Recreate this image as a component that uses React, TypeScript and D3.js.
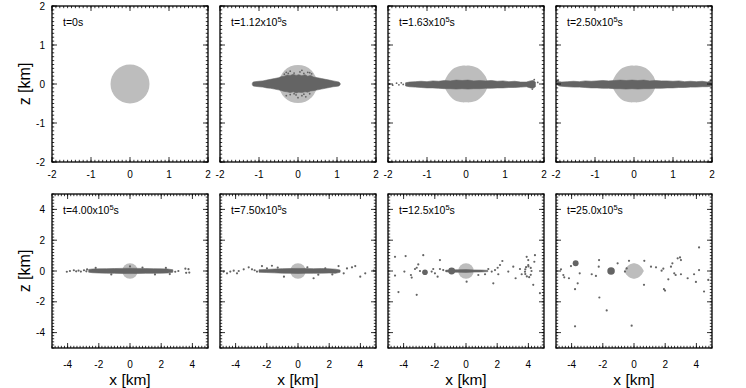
import React, { useEffect, useRef } from "react";
import * as d3 from "d3";

// panel time labels (x10^5 s), first one is plain "0s"
const timeLabels = ["0", "1.12", "1.63", "2.50", "4.00", "7.50", "12.5", "25.0"];

const topTicks = [-2, -1, 0, 1, 2];
const bottomTicks = [-4, -2, 0, 2, 4];

// grey body: circle radius (km) where round, null where lens shaped
const bodyRadius = [0.5, 0.49, null, null, 0.5, 0.5, 0.5, null];

// lens profile of the grey body, panels 3 and 4
const lensX = [-0.56, -0.5, -0.4, -0.3, -0.2, -0.1, 0, 0.1, 0.2, 0.3, 0.4, 0.5, 0.56];
const lensH = [0.05, 0.18, 0.32, 0.41, 0.45, 0.47, 0.47, 0.47, 0.45, 0.41, 0.33, 0.2, 0.05];
// lens profile, panel 8
const lens8X = [-0.63, -0.5, -0.4, -0.3, -0.2, -0.1, 0, 0.1, 0.2, 0.3, 0.4, 0.5, 0.63];
const lens8H = [0.0, 0.22, 0.32, 0.4, 0.45, 0.48, 0.5, 0.48, 0.45, 0.4, 0.32, 0.22, 0.0];

// dense particle bands (outline x, top z, bottom z)
const band2X = [-1.17, -1.15, -1.1, -1.0, -0.9, -0.8, -0.7, -0.6, -0.5, -0.42, -0.35, -0.28, -0.2, -0.12, -0.05, 0.02, 0.1, 0.18, 0.25, 0.32, 0.4, 0.5, 0.6, 0.7, 0.8, 0.9, 1.0, 1.05, 1.08];
const band2Top = [0.02, 0.05, 0.06, 0.07, 0.08, 0.1, 0.12, 0.14, 0.16, 0.19, 0.2, 0.23, 0.22, 0.25, 0.22, 0.24, 0.21, 0.24, 0.2, 0.22, 0.18, 0.16, 0.14, 0.12, 0.1, 0.08, 0.06, 0.05, 0.02];
const band2Bot = [-0.02, -0.05, -0.06, -0.07, -0.08, -0.1, -0.11, -0.13, -0.15, -0.17, -0.19, -0.2, -0.22, -0.2, -0.23, -0.21, -0.22, -0.2, -0.21, -0.18, -0.17, -0.15, -0.13, -0.11, -0.09, -0.07, -0.06, -0.05, -0.02];

const band3X = [-1.55, -1.45, -1.3, -1.15, -1.0, -0.85, -0.7, -0.55, -0.4, -0.25, -0.1, 0.05, 0.2, 0.35, 0.5, 0.65, 0.8, 0.95, 1.1, 1.25, 1.4, 1.55, 1.65, 1.72, 1.78];
const band3Top = [0.03, 0.05, 0.06, 0.07, 0.06, 0.08, 0.07, 0.09, 0.08, 0.1, 0.09, 0.1, 0.08, 0.09, 0.08, 0.09, 0.07, 0.08, 0.06, 0.07, 0.05, 0.05, 0.08, 0.09, 0.05];
const band3Bot = [-0.05, -0.07, -0.08, -0.09, -0.1, -0.1, -0.11, -0.12, -0.12, -0.13, -0.12, -0.13, -0.12, -0.12, -0.11, -0.11, -0.1, -0.1, -0.09, -0.09, -0.08, -0.07, -0.1, -0.11, -0.07];

const band4X = [-1.97, -1.92, -1.85, -1.7, -1.55, -1.4, -1.25, -1.1, -0.95, -0.8, -0.65, -0.5, -0.35, -0.2, -0.05, 0.1, 0.25, 0.4, 0.55, 0.7, 0.85, 1.0, 1.15, 1.3, 1.45, 1.6, 1.75, 1.88, 1.97];
const band4Top = [0.1, 0.06, 0.05, 0.06, 0.07, 0.06, 0.08, 0.07, 0.08, 0.09, 0.08, 0.09, 0.1, 0.09, 0.1, 0.09, 0.1, 0.08, 0.09, 0.08, 0.08, 0.07, 0.08, 0.06, 0.07, 0.06, 0.07, 0.05, 0.08];
const band4Bot = [-0.02, -0.05, -0.06, -0.07, -0.08, -0.08, -0.09, -0.1, -0.1, -0.11, -0.11, -0.12, -0.12, -0.13, -0.12, -0.13, -0.12, -0.12, -0.11, -0.11, -0.1, -0.1, -0.09, -0.09, -0.08, -0.08, -0.07, -0.07, -0.06];

const band5X = [-2.65, -2.4, -2.0, -1.5, -1.0, -0.5, 0, 0.5, 1.0, 1.5, 2.0, 2.4, 2.75];
const band5Top = [0.1, 0.13, 0.14, 0.15, 0.16, 0.17, 0.18, 0.17, 0.16, 0.15, 0.14, 0.13, 0.08];
const band5Bot = [-0.08, -0.11, -0.13, -0.14, -0.15, -0.16, -0.17, -0.16, -0.15, -0.15, -0.14, -0.13, -0.08];

const band6X = [-2.5, -2.0, -1.5, -1.0, -0.5, 0, 0.5, 1.0, 1.5, 2.0, 2.4, 2.7];
const band6Top = [0.08, 0.1, 0.13, 0.15, 0.16, 0.17, 0.16, 0.15, 0.16, 0.14, 0.12, 0.06];
const band6Bot = [-0.08, -0.1, -0.12, -0.14, -0.15, -0.16, -0.15, -0.15, -0.14, -0.13, -0.15, -0.08];

const band7X = [-1.3, -0.9, -0.5, 0, 0.5, 1.0, 1.4];
const band7Top = [0.05, 0.08, 0.08, 0.09, 0.07, 0.06, 0.04];
const band7Bot = [-0.05, -0.08, -0.08, -0.09, -0.07, -0.06, -0.04];

// single particles [x, z] in km
const dots2 = [[-0.3, 0.3], [-0.2, 0.33], [-0.1, 0.28], [0.05, 0.31], [0.15, 0.27], [0.25, 0.3], [0.35, 0.26], [-0.35, 0.25], [0.1, 0.35], [-0.25, 0.27], [0.3, 0.29], [-0.05, -0.28], [0.1, -0.3], [-0.2, -0.27], [0.2, -0.33], [0.3, -0.25], [-0.3, -0.3], [0.0, -0.35], [-0.1, -0.25], [0.15, -0.26]];
const dots3 = [[-1.96, 0.0], [-1.88, -0.03], [-1.78, 0.02], [-1.72, -0.02], [-1.66, 0.03], [-1.61, -0.01], [1.84, 0.04], [1.75, 0.11], [1.7, -0.13]];
const dots4 = [[-1.98, 0.06], [-1.94, 0.1], [1.98, -0.02], [1.96, 0.09]];
const dots5 = [[-4.05, -0.05], [-3.85, 0.0], [-3.6, 0.05], [-3.45, -0.02], [-3.3, 0.03], [-3.15, -0.04], [-2.95, 0.05], [-2.8, -0.02], [3.1, 0.0], [3.55, 0.15], [3.75, 0.12], [3.6, -0.12], [3.8, -0.1], [0.0, 0.3], [2.9, -0.05], [-2.75, 0.1], [-2.2, 0.2], [-1.2, -0.22], [0.8, 0.22], [1.6, -0.22], [2.3, 0.2], [2.55, -0.2]];
const dots6 = [[-4.98, 0.17], [-4.77, -0.04], [-4.55, -0.15], [-4.34, -0.04], [-4.12, 0.02], [-3.91, -0.15], [-3.8, 0.0], [-3.48, 0.11], [-3.16, 0.24], [-2.95, 0.11], [-2.78, 0.05], [-2.63, -0.04], [-2.31, 0.32], [-1.99, 0.17], [-1.67, 0.34], [-0.9, -0.37], [1.0, -0.47], [1.75, 0.17], [2.6, 0.32], [2.93, -0.15], [3.14, 0.17], [3.46, 0.24], [3.67, 0.32], [3.99, -0.37], [4.31, -0.15], [4.85, 0.02], [-1.3, 0.22], [0.6, 0.24], [1.3, -0.24], [2.2, -0.22]];
const dots7 = [[-4.55, 0.92], [-3.87, 0.97], [-4.55, -0.3], [-4.33, -1.37], [-3.16, -1.55], [-3.95, -0.04], [-3.53, -0.26], [-3.48, -0.43], [-3.27, 0.13], [-3.16, 0.21], [-3.06, 0.43], [-2.95, 0.0], [-2.74, 1.03], [-2.2, -0.04], [-1.99, -0.15], [-1.82, -0.37], [-2.1, 0.13], [-1.67, 0.13], [-1.46, 0.06], [-1.24, 0.0], [-1.67, 0.71], [0.04, -0.69], [0.79, -0.26], [1.22, -0.21], [1.43, 0.13], [1.65, -0.04], [1.86, 0.06], [2.03, 0.21], [2.18, 0.39], [2.33, 0.65], [1.75, -0.8], [2.07, -0.21], [2.71, -0.04], [3.03, 0.28], [3.18, -0.47], [3.46, 0.13], [3.57, -0.21], [3.89, 0.92], [3.99, 0.71], [3.99, 0.39], [4.38, 0.6], [4.31, -0.9], [4.74, -1.44], [4.42, 1.03], [3.8, 0.1], [3.85, 0.25], [4.0, 0.3], [4.15, 0.2], [4.2, 0.0], [4.15, -0.25], [4.05, -0.4], [3.9, -0.35], [3.8, -0.2], [3.78, -0.05]];
const dots8 = [[-4.68, 0.11], [-4.53, -0.26], [-4.47, -0.41], [-4.17, -0.47], [-4.04, 0.32], [-3.78, -1.18], [-3.61, -0.8], [-3.48, -0.15], [-2.71, -0.21], [-2.44, -0.32], [-2.24, 0.71], [-2.26, 0.28], [-2.22, -1.72], [-1.75, -2.56], [-1.05, 0.5], [-0.58, -0.04], [-0.47, 0.17], [-0.32, 0.66], [0.66, 0.66], [0.64, -0.9], [1.09, 0.28], [1.41, 0.24], [1.77, 0.02], [1.88, 0.15], [1.92, -1.18], [1.99, -1.27], [2.2, -0.54], [2.37, 0.28], [2.46, 0.5], [2.58, -0.15], [2.67, -0.26], [2.8, 0.82], [2.95, 0.88], [3.01, 0.71], [3.01, -0.21], [3.44, -0.47], [3.85, -0.21], [3.97, -0.71], [4.17, 1.53], [4.17, 0.06], [4.49, -1.33], [4.76, -0.58], [-3.78, -3.59], [-0.15, -3.55]];

// clumps [x, z, radius km]
const clumps7 = [[-2.63, -0.08, 0.18], [-0.92, 0.0, 0.22]];
const clumps8 = [[-3.74, 0.5, 0.19], [-1.47, 0.0, 0.24]];

const DARK = "#646464";
const LIGHT = "#bdbdbd";
const FONT = "'Liberation Sans', Arial, Helvetica, sans-serif";

const App = () => {
  const ref = useRef<SVGSVGElement>(null);

  useEffect(() => {
    const width = 746;
    const height = 388;
    const left0 = 52;
    const pw = 156;
    const gap = 12;
    const rows = [
      { top: 6, h: 156, dom: 2, ticks: topTicks, minor: 0.1, labelDy: 16 },
      { top: 194, h: 154, dom: 5, ticks: bottomTicks, minor: 0.2, labelDy: 20 },
    ];

    const bands = [
      null,
      [band2X, band2Top, band2Bot],
      [band3X, band3Top, band3Bot],
      [band4X, band4Top, band4Bot],
      [band5X, band5Top, band5Bot],
      [band6X, band6Top, band6Bot],
      [band7X, band7Top, band7Bot],
      null,
    ];
    const dots = [[], dots2, dots3, dots4, dots5, dots6, dots7, dots8];
    const clumps = [[], [], [], [], [], [], clumps7, clumps8];
    const lenses = [null, null, [lensX, lensH], [lensX, lensH], null, null, null, [lens8X, lens8H]];

    const svg = d3.select(ref.current);
    svg.selectAll("*").remove();
    svg.attr("width", width).attr("height", height).style("font-family", FONT);
    svg.append("rect").attr("width", width).attr("height", height).attr("fill", "white");

    timeLabels.forEach((t, i) => {
      const row = rows[i < 4 ? 0 : 1];
      const col = i % 4;
      const x0 = left0 + col * (pw + gap);
      const x = d3.scaleLinear().domain([-row.dom, row.dom]).range([x0, x0 + pw]);
      const y = d3.scaleLinear().domain([-row.dom, row.dom]).range([row.top + row.h, row.top]);

      const g = svg.append("g");
      const clipId = `clip${i}`;
      g.append("clipPath").attr("id", clipId)
        .append("rect").attr("x", x0).attr("y", row.top).attr("width", pw).attr("height", row.h);
      const plot = g.append("g").attr("clip-path", `url(#${clipId})`);

      // grey body
      const r = bodyRadius[i];
      if (r != null) {
        plot.append("ellipse")
          .attr("cx", x(0)).attr("cy", y(0))
          .attr("rx", x(r) - x(0)).attr("ry", y(0) - y(r))
          .attr("fill", LIGHT);
      }
      const lens = lenses[i];
      if (lens) {
        const pts = lens[0].map((v, k) => [v, lens[1][k]]);
        const area = d3.area<number[]>()
          .x(d => x(d[0])).y0(d => y(-d[1])).y1(d => y(d[1]))
          .curve(d3.curveCatmullRom);
        plot.append("path").attr("d", area(pts)).attr("fill", LIGHT);
      }

      // dense band
      const band = bands[i];
      if (band) {
        const pts = band[0].map((v, k) => [v, band[1][k], band[2][k]]);
        const area = d3.area<number[]>()
          .x(d => x(d[0])).y0(d => y(d[2])).y1(d => y(d[1]))
          .curve(d3.curveLinear);
        plot.append("path").attr("d", area(pts)).attr("fill", DARK)
          .attr("stroke", DARK).attr("stroke-width", 0.6);
      }

      const dotR = i < 4 ? 0.9 : 1.1;
      plot.selectAll("circle.dot").data(dots[i]).join("circle")
        .attr("class", "dot")
        .attr("cx", d => x(d[0])).attr("cy", d => y(d[1]))
        .attr("r", dotR).attr("fill", DARK);

      plot.selectAll("circle.clump").data(clumps[i]).join("circle")
        .attr("class", "clump")
        .attr("cx", d => x(d[0])).attr("cy", d => y(d[1]))
        .attr("r", d => x(d[2]) - x(0)).attr("fill", DARK);

      // ticks on all four sides
      const minorTicks = d3.range(-row.dom, row.dom + 1e-6, row.minor);
      const tk = g.append("g").attr("stroke", "black").attr("stroke-width", 0.8);
      const addTicks = (vals: number[], len: number) => {
        vals.forEach(v => {
          tk.append("line").attr("x1", x(v)).attr("x2", x(v)).attr("y1", row.top + row.h).attr("y2", row.top + row.h - len);
          tk.append("line").attr("x1", x(v)).attr("x2", x(v)).attr("y1", row.top).attr("y2", row.top + len);
          tk.append("line").attr("y1", y(v)).attr("y2", y(v)).attr("x1", x0).attr("x2", x0 + len);
          tk.append("line").attr("y1", y(v)).attr("y2", y(v)).attr("x1", x0 + pw).attr("x2", x0 + pw - len);
        });
      };
      addTicks(minorTicks, 2.2);
      addTicks(row.ticks, 5);

      g.append("rect")
        .attr("x", x0).attr("y", row.top).attr("width", pw).attr("height", row.h)
        .attr("fill", "none").attr("stroke", "black").attr("stroke-width", 1.3);

      // x tick labels
      g.selectAll("text.xt").data(row.ticks).join("text")
        .attr("class", "xt")
        .attr("x", d => x(d)).attr("y", row.top + row.h + row.labelDy)
        .attr("text-anchor", "middle").attr("font-size", 10)
        .text(d => String(d));

      if (col === 0) {
        g.selectAll("text.yt").data(row.ticks).join("text")
          .attr("class", "yt")
          .attr("x", x0 - 7).attr("y", d => y(d) + 3.5)
          .attr("text-anchor", "end").attr("font-size", 10)
          .text(d => String(d));
        g.append("text")
          .attr("transform", `translate(${x0 - 22},${row.top + row.h / 2}) rotate(-90)`)
          .attr("text-anchor", "middle").attr("font-size", 16)
          .text("z [km]");
      }
      if (i >= 4) {
        g.append("text")
          .attr("x", x0 + pw / 2).attr("y", 385)
          .attr("text-anchor", "middle").attr("font-size", 15.5)
          .text("x [km]");
      }

      // time label
      const lab = g.append("text")
        .attr("x", x0 + 11).attr("y", row.top + 20)
        .attr("font-size", 10.5);
      if (i === 0) {
        lab.text("t=0s");
      } else {
        lab.append("tspan").text(`t=${t}x10`);
        lab.append("tspan").attr("dy", -4).attr("font-size", 7.5).text("5");
        lab.append("tspan").attr("dy", 4).text("s");
      }
    });
  }, []);

  return (
    <svg ref={ref} style={{ position: "absolute", left: 0, top: 0 }} />
  );
};

export default App;
